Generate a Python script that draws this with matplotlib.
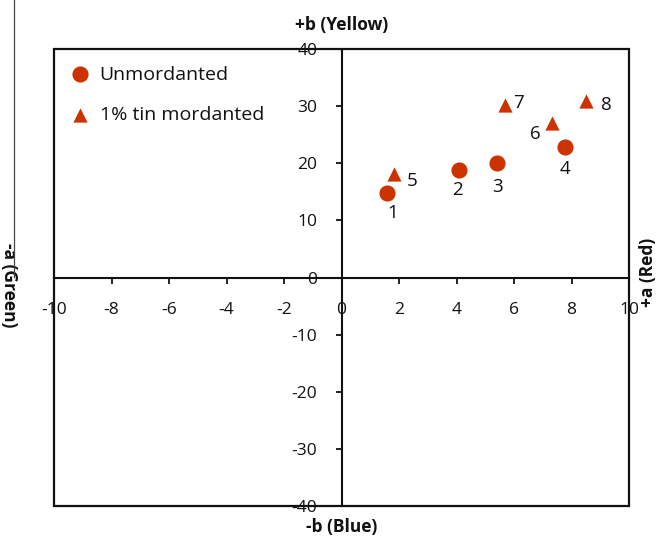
import numpy as np
import matplotlib.pyplot as plt
from matplotlib.patches import Rectangle
from matplotlib.lines import Line2D

plt.rcParams['font.family'] = ['Open Sans', 'DejaVu Sans']

# CIELab a*/b* coordinates for each sample
unmord_id = ['1', '2', '3', '4']
unmord_a = [1.59, 4.08, 5.42, 7.77]
unmord_b = [14.75, 18.8, 20.1, 22.9]

tin_id = ['5', '6', '7', '8']
tin_a = [1.82, 7.33, 5.67, 8.52]
tin_b = [18.1, 27.1, 30.2, 30.9]

xticks = [-10, -8, -6, -4, -2, 0, 2, 4, 6, 8, 10]
yticks = [-40, -30, -20, -10, 0, 10, 20, 30, 40]

red = '#cc3300'
ink = '#111111'

fig = plt.figure(figsize=(6.62, 5.38), dpi=100)
ax = fig.add_axes([0.0816, 0.0595, 0.8686, 0.8494])
ax.set_xlim(-10, 10)
ax.set_ylim(-40, 40)

ax.scatter(unmord_a, unmord_b, marker='o', s=135, color=red, lw=0, zorder=3,
           label='Unmordanted')
ax.scatter(tin_a, tin_b, marker='^', s=105, color=red, lw=0, zorder=3,
           label='1% tin mordanted')

# number labels beside each point (offsets in points)
offs = {'1': (4, -14), '2': (-1, -14), '3': (0, -17.5), '4': (0, -16),
        '5': (13, -5), '6': (-12, -8), '7': (10, 1.5), '8': (14, -3)}
for ids, xs, ys in [(unmord_id, unmord_a, unmord_b), (tin_id, tin_a, tin_b)]:
    for i, x, y in zip(ids, xs, ys):
        ax.annotate(i, (x, y), xytext=offs[i], textcoords='offset points',
                    ha='center', va='center', fontsize=13.5, color=ink)

# axes crossing at the origin, plus an outer frame
for s in ['top', 'right']:
    ax.spines[s].set_visible(False)
ax.spines['left'].set_position(('data', 0))
ax.spines['bottom'].set_position(('data', 0))
for s in ['left', 'bottom']:
    ax.spines[s].set_linewidth(1.5)
    ax.spines[s].set_color(ink)
ax.add_patch(Rectangle((0, 0), 1, 1, transform=ax.transAxes, fill=False,
                       lw=1.6, ec=ink, clip_on=False, zorder=4))

ax.set_xticks(xticks)
ax.set_yticks(yticks)
ax.set_xticklabels([str(t) for t in xticks])
ax.set_yticklabels([str(t) for t in yticks])
ax.tick_params(axis='both', direction='out', length=4.5, width=1.3,
               color=ink, labelsize=12.5, labelcolor=ink, pad=13)

ax.text(0.5, 1.0525, '+b (Yellow)', transform=ax.transAxes,
        ha='center', va='center', fontsize=12.5, fontweight='bold', color=ink)
ax.text(0.5, -0.046, '-b (Blue)', transform=ax.transAxes,
        ha='center', va='center', fontsize=12.5, fontweight='bold', color=ink)
ax.text(-0.079, 0.4836, '-a (Green)', transform=ax.transAxes,
        ha='center', va='center', rotation=270, fontsize=12.5,
        fontweight='bold', color=ink)
ax.text(1.033, 0.512, '+a (Red)', transform=ax.transAxes,
        ha='center', va='center', rotation=90, fontsize=12.5,
        fontweight='bold', color=ink)

leg = ax.legend(loc='upper left', bbox_to_anchor=(0.0, 1.0), frameon=False,
                fontsize=14, handletextpad=0.5, labelspacing=1.15,
                handlelength=1.0, borderpad=0.55, borderaxespad=0.3)
for t in leg.get_texts():
    t.set_color(ink)

# thin rule on the left edge of the figure
fig.add_artist(Line2D([0.021, 0.021], [0.485, 1.0], transform=fig.transFigure,
                      color='#444444', lw=0.9))

fig.savefig('out.png', dpi=100)
